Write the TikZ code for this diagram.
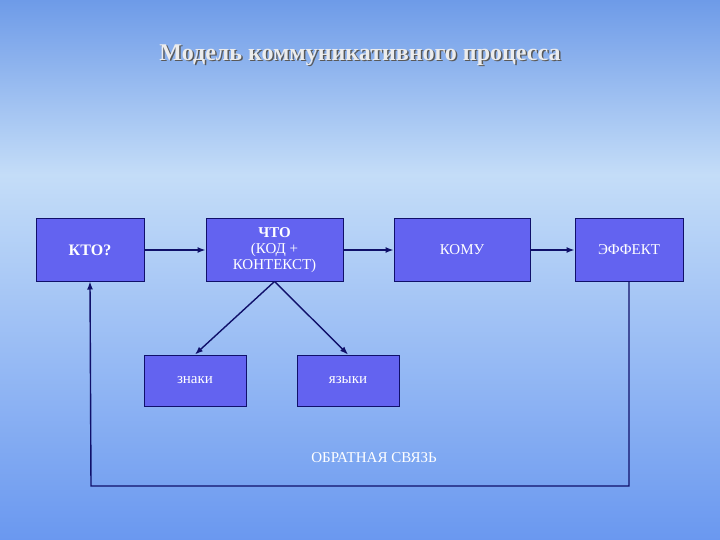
\documentclass[tikz,border=0pt]{standalone}
\usepackage{fontspec}
\setmainfont{Liberation Serif}
\usetikzlibrary{arrows.meta}
\definecolor{bgtop}{HTML}{6E9BE8}
\definecolor{bgmid}{HTML}{C4DDF8}
\definecolor{bgbot}{HTML}{6A98F0}
\definecolor{boxfill}{HTML}{6363F0}
\definecolor{navy}{HTML}{10106A}
\tikzset{
  blk/.style={draw=navy, line width=1pt, fill=boxfill, text=white, align=center, inner sep=0pt, font=\fontsize{15}{16}\selectfont},
  con/.style={draw=navy, line width=1.4pt, -{Latex[length=8pt,width=6pt]}}
}
\begin{document}
\begin{tikzpicture}[x=1pt,y=-1pt]
\useasboundingbox (0,0) rectangle (720,540);
\shade[top color=bgtop, bottom color=bgmid] (0,0) rectangle (720,175);
\shade[top color=bgmid, bottom color=bgbot] (0,175) rectangle (720,540);
\node[text=black!65, font=\fontsize{24}{26}\selectfont\bfseries] at (361.5,56.5) {Модель коммуникативного процесса};
\node[text=white!85!gray, font=\fontsize{24}{26}\selectfont\bfseries] (title) at (360,55) {Модель коммуникативного процесса};
\node[blk, minimum width=108pt, minimum height=62pt, font=\fontsize{16}{17}\selectfont\bfseries] (kto) at (90,250) {КТО?};
\node[blk, minimum width=137pt, minimum height=62pt] (chto) at (274.5,250) {\textbf{ЧТО}\\(КОД +\\КОНТЕКСТ)};
\node[blk, minimum width=136pt, minimum height=62pt] (komu) at (462,250) {КОМУ};
\node[blk, minimum width=108pt, minimum height=62pt] (eff) at (629,250) {ЭФФЕКТ};
\node[blk, minimum width=102pt, minimum height=51pt] (zn) at (195,380.5) {знаки};
\node[blk, minimum width=102pt, minimum height=51pt] (ya) at (348,380.5) {языки};
\node[text=white, font=\fontsize{15}{16}\selectfont] (fb) at (374,458) {ОБРАТНАЯ СВЯЗЬ};
\draw[con] (kto) -- (chto);
\draw[con] (chto) -- (komu);
\draw[con] (komu) -- (eff);
\draw[con] (chto.south) -- (zn.north);
\draw[con] (chto.south) -- (ya.north);
\coordinate (c1) at (629,486);
\coordinate (c2) at (91,486);
\draw[con] (eff.south) -- (c1) -- (c2) -- (kto.south);
\end{tikzpicture}
\end{document}
